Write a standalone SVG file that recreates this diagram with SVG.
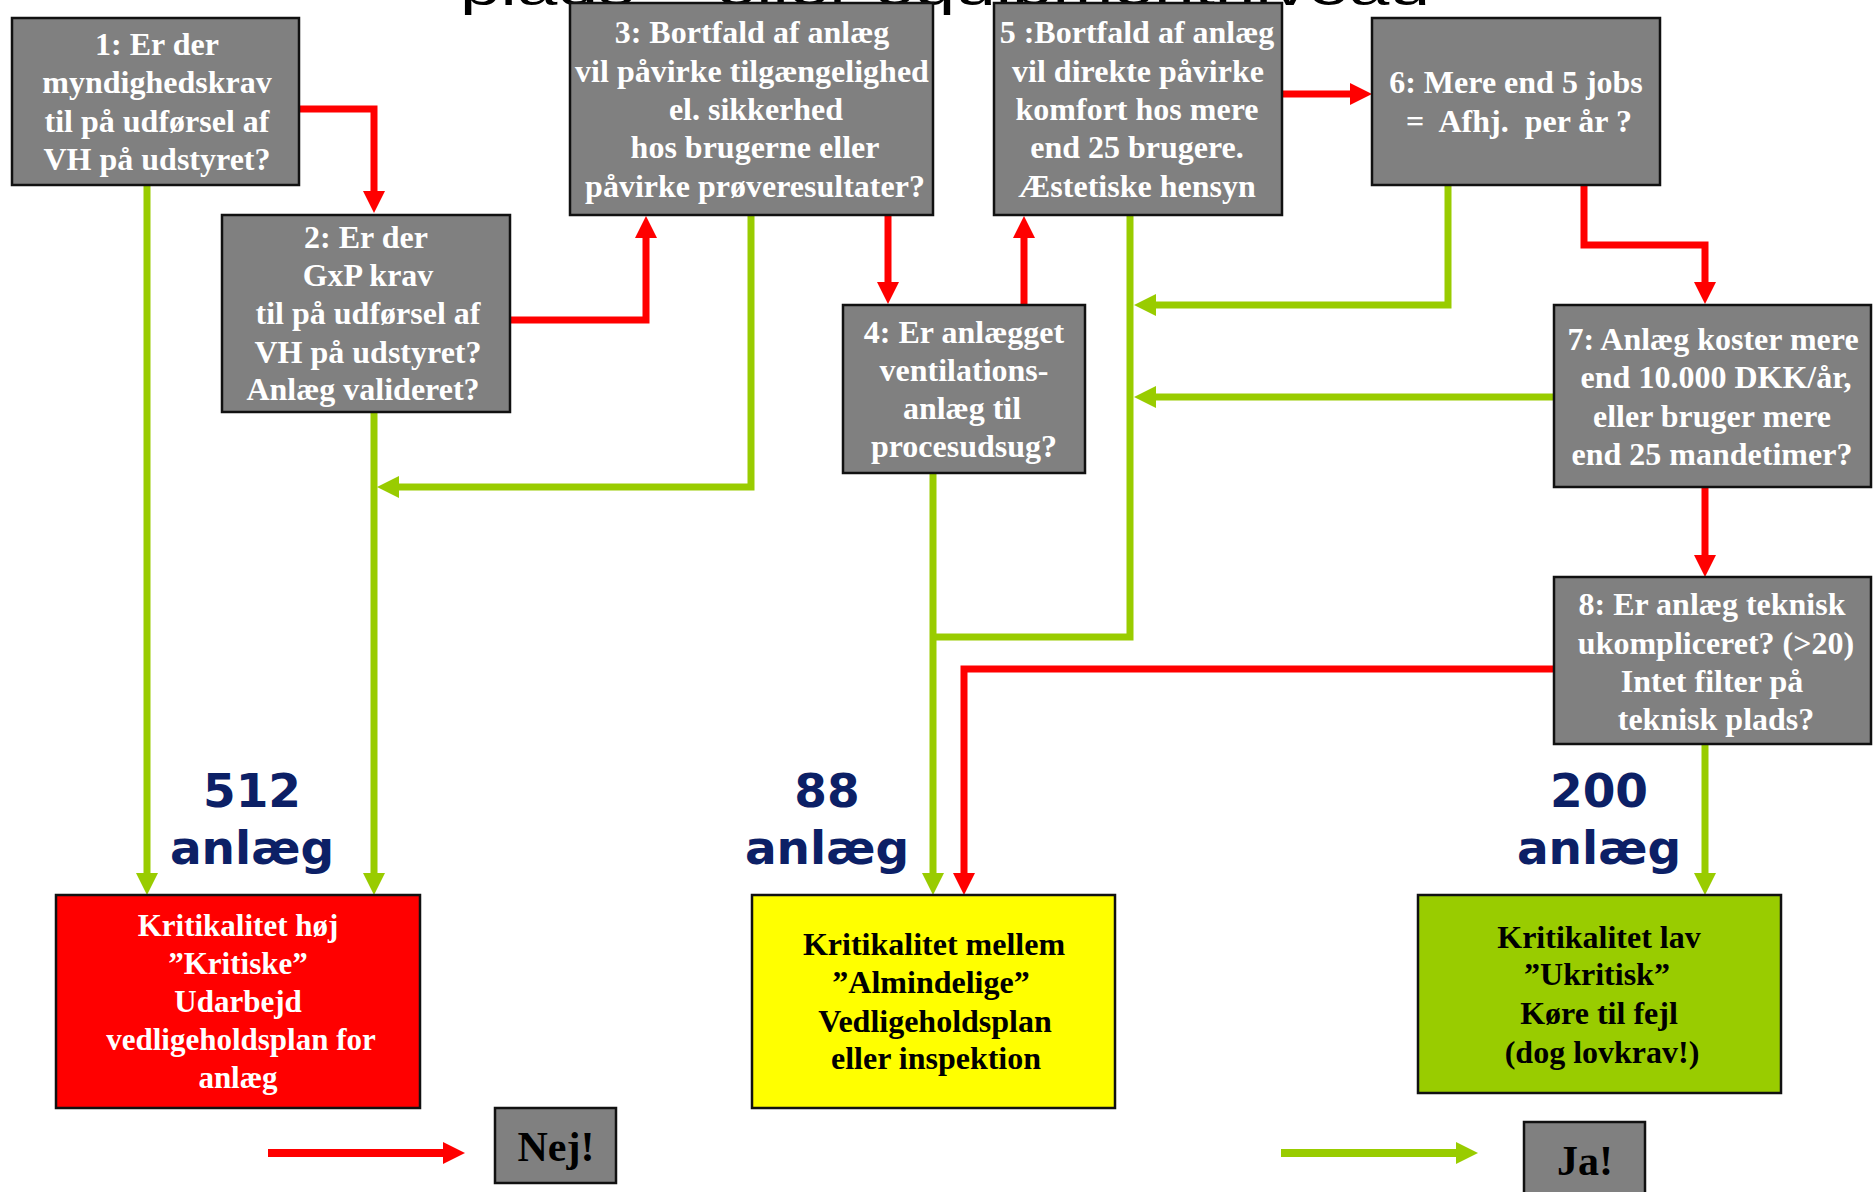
<svg xmlns="http://www.w3.org/2000/svg" width="1874" height="1192" viewBox="0 0 1874 1192">
<style>
.box{fill:#808080;stroke:#111;stroke-width:2.5}
.t{font-family:"Liberation Serif","Times New Roman",serif;font-weight:bold;font-size:32px;text-anchor:middle}
.w{fill:#fff}
.k{fill:#000}
.num{font-family:"DejaVu Sans",Verdana,sans-serif;font-weight:bold;font-size:47px;fill:#0c2066;text-anchor:middle}
.r{fill:none;stroke:#ff0000;stroke-width:7}
.g{fill:none;stroke:#99cc00;stroke-width:7}
</style>
<defs>
<marker id="ar" viewBox="0 0 22 22" refX="1" refY="11" markerWidth="22" markerHeight="22" markerUnits="userSpaceOnUse" orient="auto"><path d="M0,0 L22,11 L0,22 Z" fill="#ff0000"/></marker>
<marker id="ag" viewBox="0 0 22 22" refX="1" refY="11" markerWidth="22" markerHeight="22" markerUnits="userSpaceOnUse" orient="auto"><path d="M0,0 L22,11 L0,22 Z" fill="#99cc00"/></marker>
</defs>
<rect width="1874" height="1192" fill="#fff"/>
<text x="460" y="5" font-family="Liberation Sans, Arial, sans-serif" font-size="50" fill="#000" textLength="970" lengthAdjust="spacingAndGlyphs">plads – eller equipmentniveau</text>

<g id="connectors">
<path class="r" d="M299,109 H374 V192" marker-end="url(#ar)"/>
<path class="r" d="M510,320 H646 V237" marker-end="url(#ar)"/>
<path class="r" d="M888,215 V283" marker-end="url(#ar)"/>
<path class="r" d="M1024,305 V237" marker-end="url(#ar)"/>
<path class="r" d="M1282,94 H1351" marker-end="url(#ar)"/>
<path class="r" d="M1584,185 V245 H1705 V283" marker-end="url(#ar)"/>
<path class="r" d="M1705,487 V556" marker-end="url(#ar)"/>
<path class="r" d="M1554,669 H964 V874" marker-end="url(#ar)"/>
<path class="g" d="M147,185 V874" marker-end="url(#ag)"/>
<path class="g" d="M374,412 V874" marker-end="url(#ag)"/>
<path class="g" d="M751,215 V487 H398" marker-end="url(#ag)"/>
<path class="g" d="M933,473 V874" marker-end="url(#ag)"/>
<path class="g" d="M1130,215 V637 H933"/>
<path class="g" d="M1448,185 V305 H1155" marker-end="url(#ag)"/>
<path class="g" d="M1554,397 H1155" marker-end="url(#ag)"/>
<path class="g" d="M1705,744 V874" marker-end="url(#ag)"/>
<path fill="none" stroke="#ff0000" stroke-width="8" d="M268,1153 H444" marker-end="url(#ar)"/>
<path fill="none" stroke="#99cc00" stroke-width="8" d="M1281,1153 H1457" marker-end="url(#ag)"/>
</g>

<g id="n1"><rect class="box" x="12" y="18" width="287" height="167"/>
<text class="t w"><tspan x="157" y="55">1: Er der</tspan><tspan x="157" y="93">myndighedskrav</tspan><tspan x="157" y="132">til på udførsel af</tspan><tspan x="157" y="170">VH på udstyret?</tspan></text></g>

<g id="n2"><rect class="box" x="222" y="215" width="288" height="197"/>
<text class="t w"><tspan x="366" y="248">2: Er der</tspan><tspan x="368" y="286">GxP krav</tspan><tspan x="368" y="324">til på udførsel af</tspan><tspan x="368" y="363">VH på udstyret?</tspan><tspan x="363" y="400">Anlæg valideret?</tspan></text></g>

<g id="n3"><rect class="box" x="570" y="3" width="363" height="212"/>
<text class="t w"><tspan x="752" y="43">3: Bortfald af anlæg</tspan><tspan x="752" y="82">vil påvirke tilgængelighed</tspan><tspan x="756" y="120">el. sikkerhed</tspan><tspan x="755" y="158">hos brugerne eller</tspan><tspan x="755" y="197">påvirke prøveresultater?</tspan></text></g>

<g id="n4"><rect class="box" x="843" y="305" width="242" height="168"/>
<text class="t w"><tspan x="964" y="343">4: Er anlægget</tspan><tspan x="964" y="381">ventilations-</tspan><tspan x="962" y="419">anlæg til</tspan><tspan x="964" y="457">procesudsug?</tspan></text></g>

<g id="n5"><rect class="box" x="994" y="3" width="288" height="212"/>
<text class="t w"><tspan x="1137" y="43">5 :Bortfald af anlæg</tspan><tspan x="1138" y="82">vil direkte påvirke</tspan><tspan x="1137" y="120">komfort hos mere</tspan><tspan x="1137" y="158">end 25 brugere.</tspan><tspan x="1137" y="197">Æstetiske hensyn</tspan></text></g>

<g id="n6"><rect class="box" x="1372" y="18" width="288" height="167"/>
<text class="t w" xml:space="preserve"><tspan x="1516" y="93">6: Mere end 5 jobs</tspan><tspan x="1519" y="132">=  Afhj.  per år ?</tspan></text></g>

<g id="n7"><rect class="box" x="1554" y="305" width="317" height="182"/>
<text class="t w"><tspan x="1713" y="350">7: Anlæg koster mere</tspan><tspan x="1716" y="388">end 10.000 DKK/år,</tspan><tspan x="1712" y="427">eller bruger mere</tspan><tspan x="1712" y="465">end 25 mandetimer?</tspan></text></g>

<g id="n8"><rect class="box" x="1554" y="577" width="317" height="167"/>
<text class="t w"><tspan x="1712" y="615">8: Er anlæg teknisk</tspan><tspan x="1716" y="654">ukompliceret? (&gt;20)</tspan><tspan x="1712" y="692">Intet filter på</tspan><tspan x="1716" y="730">teknisk plads?</tspan></text></g>

<g id="high"><rect x="56" y="895" width="364" height="213" fill="#ff0000" stroke="#111" stroke-width="2.5"/>
<text class="t w" style="font-size:31px"><tspan x="238" y="936">Kritikalitet høj</tspan><tspan x="238" y="974">”Kritiske”</tspan><tspan x="238" y="1012">Udarbejd</tspan><tspan x="241" y="1050">vedligeholdsplan for</tspan><tspan x="238" y="1088">anlæg</tspan></text></g>

<g id="mid"><rect x="752" y="895" width="363" height="213" fill="#ffff00" stroke="#111" stroke-width="2.5"/>
<text class="t k"><tspan x="934" y="955">Kritikalitet mellem</tspan><tspan x="931" y="993">”Almindelige”</tspan><tspan x="935" y="1032">Vedligeholdsplan</tspan><tspan x="936" y="1069">eller inspektion</tspan></text></g>

<g id="low"><rect x="1418" y="895" width="363" height="198" fill="#99cc00" stroke="#111" stroke-width="2.5"/>
<text class="t k"><tspan x="1599" y="948">Kritikalitet lav</tspan><tspan x="1597" y="985">”Ukritisk”</tspan><tspan x="1599" y="1024">Køre til fejl</tspan><tspan x="1602" y="1063">(dog lovkrav!)</tspan></text></g>

<g id="nej"><rect class="box" x="495" y="1108" width="121" height="75"/>
<text class="t k" style="font-size:42px" x="556" y="1161">Nej!</text></g>

<g id="ja"><rect class="box" x="1524" y="1122" width="121" height="82"/>
<text class="t k" style="font-size:42px" x="1585" y="1175">Ja!</text></g>

<g id="counts">
<text class="num" x="252" y="807">512</text><text class="num" x="252" y="864">anlæg</text>
<text class="num" x="827" y="807">88</text><text class="num" x="827" y="864">anlæg</text>
<text class="num" x="1599" y="807">200</text><text class="num" x="1599" y="864">anlæg</text>
</g>
</svg>
